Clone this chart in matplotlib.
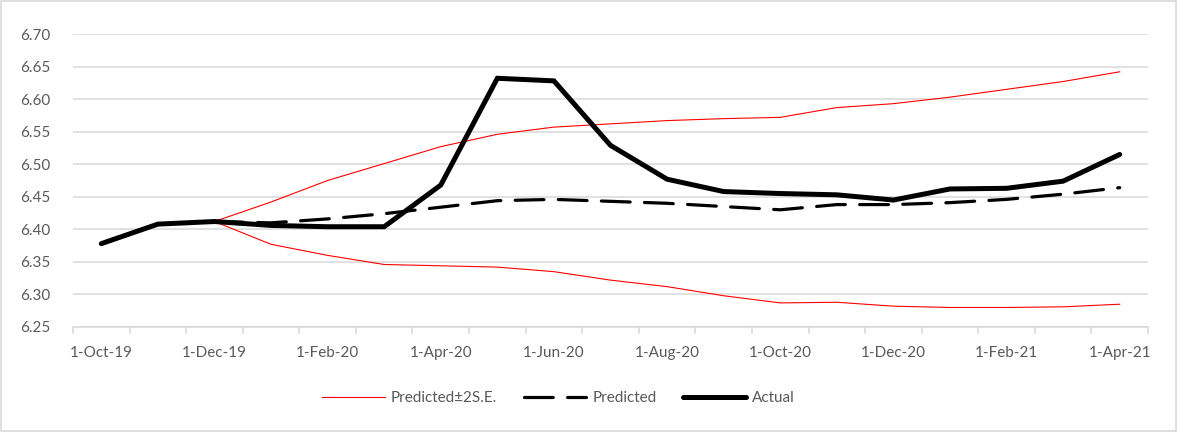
import matplotlib.pyplot as plt
from matplotlib.patches import Rectangle

plt.rcParams['font.family'] = ['Lato', 'DejaVu Sans']

# monthly categories Oct-2019 .. Apr-2021
months = ['1-Oct-19', '1-Nov-19', '1-Dec-19', '1-Jan-20', '1-Feb-20', '1-Mar-20',
          '1-Apr-20', '1-May-20', '1-Jun-20', '1-Jul-20', '1-Aug-20', '1-Sep-20',
          '1-Oct-20', '1-Nov-20', '1-Dec-20', '1-Jan-21', '1-Feb-21', '1-Mar-21',
          '1-Apr-21']

actual = [6.378, 6.408, 6.412, 6.406, 6.404, 6.404, 6.468, 6.632, 6.628, 6.529,
          6.477, 6.458, 6.455, 6.453, 6.445, 6.462, 6.463, 6.474, 6.515]

# forecasts start at Dec-19
predicted = [None, None, 6.412, 6.410, 6.416, 6.424, 6.434, 6.444, 6.446, 6.443,
             6.440, 6.435, 6.430, 6.438, 6.438, 6.441, 6.446, 6.454, 6.464]
upper = [None, None, 6.412, 6.442, 6.475, 6.501, 6.527, 6.546, 6.557, 6.562,
         6.567, 6.570, 6.572, 6.587, 6.593, 6.603, 6.615, 6.627, 6.642]
lower = [None, None, 6.412, 6.377, 6.360, 6.346, 6.344, 6.342, 6.335, 6.322,
         6.312, 6.298, 6.287, 6.288, 6.282, 6.280, 6.280, 6.281, 6.285]

x = list(range(len(months)))


def series(vals):
    xs = [i for i, v in zip(x, vals) if v is not None]
    ys = [v for v in vals if v is not None]
    return xs, ys


fig = plt.figure(figsize=(11.78, 4.32), dpi=100)
ax = fig.add_axes([73 / 1178, 1 - 327 / 432, (1148 - 73) / 1178, (327 - 34) / 432])

# chart area border
fig.patches.append(Rectangle((0.001, 0.002), 0.997, 0.996, transform=fig.transFigure,
                             fill=False, edgecolor='#d9d9d9', linewidth=1.2))

xs, ys = series(upper)
red_line, = ax.plot(xs, ys, color='#ff0000', linewidth=0.8)
xs, ys = series(lower)
ax.plot(xs, ys, color='#ff0000', linewidth=0.8)
xs, ys = series(predicted)
pred_line, = ax.plot(xs, ys, color='black', linewidth=2.3, dashes=(9, 4.5),
                     dash_capstyle='round')
act_line, = ax.plot(x, actual, color='black', linewidth=3.6,
                    solid_capstyle='round', solid_joinstyle='miter')

ax.set_ylim(6.25, 6.70)
ax.set_xlim(-0.5, len(months) - 0.5)
ax.set_yticks([6.25 + 0.05 * k for k in range(10)])
ax.set_yticklabels([f"{6.25 + 0.05 * k:.2f}" for k in range(10)])
ax.yaxis.grid(True, color='#d9d9d9', linewidth=1.1)
ax.set_axisbelow(True)

# labels every second month, tick marks between categories
ax.set_xticks(x[::2])
ax.set_xticklabels(months[::2])
ax.set_xticks([i - 0.5 for i in range(len(months) + 1)], minor=True)
ax.tick_params(axis='x', which='major', length=0, pad=14)
ax.tick_params(axis='x', which='minor', length=5, color='#d9d9d9', width=1.1)
ax.tick_params(axis='y', length=0, pad=16)
ax.tick_params(labelsize=11, labelcolor='#595959')

for s in ['top', 'right', 'left']:
    ax.spines[s].set_visible(False)
ax.spines['bottom'].set_color('#d9d9d9')
ax.spines['bottom'].set_linewidth(1.1)

fig.legend([red_line, pred_line, act_line], ['Predicted±2S.E.', 'Predicted', 'Actual'],
           loc='center', bbox_to_anchor=(0.474, 1 - 398 / 432), ncol=3, frameon=False,
           fontsize=11, labelcolor='#595959', handlelength=4.1, columnspacing=1.75,
           handletextpad=0.4)

fig.savefig('out.png', dpi=100)
